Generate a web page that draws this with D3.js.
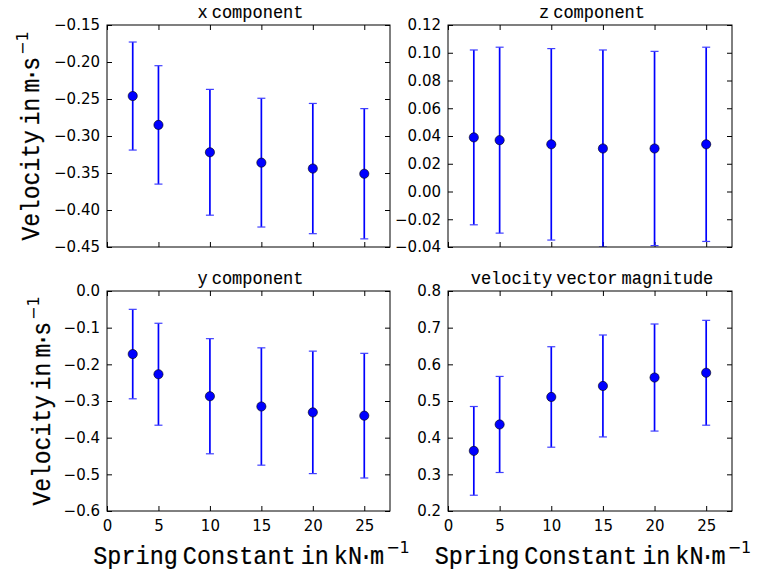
<!DOCTYPE html>
<html><head><meta charset="utf-8">
<script src="https://cdn.jsdelivr.net/npm/d3@7"></script>
<style>body{margin:0;background:#fff} svg{display:block}</style>
</head><body><svg id="c" width="759" height="577"></svg>
<script>
// ---------------- data ----------------
const springConstant = [2.5, 5, 10, 15, 20, 25];
const xTickValues = [0, 5, 10, 15, 20, 25];

const xCompMean = [-0.246, -0.285, -0.322, -0.336, -0.344, -0.351];
const xCompErr  = [0.073, 0.080, 0.085, 0.087, 0.088, 0.088];
const zCompMean = [0.039, 0.037, 0.034, 0.031, 0.031, 0.034];
const zCompErr  = [0.063, 0.067, 0.069, 0.071, 0.070, 0.070];
const yCompMean = [-0.172, -0.227, -0.287, -0.315, -0.331, -0.340];
const yCompErr  = [0.122, 0.139, 0.157, 0.160, 0.167, 0.170];
const magMean   = [0.364, 0.436, 0.511, 0.541, 0.564, 0.577];
const magErr    = [0.121, 0.131, 0.137, 0.139, 0.146, 0.143];

const xCompTicks = [-0.45, -0.40, -0.35, -0.30, -0.25, -0.20, -0.15];
const zCompTicks = [-0.04, -0.02, 0.00, 0.02, 0.04, 0.06, 0.08, 0.10, 0.12];
const yCompTicks = [-0.6, -0.5, -0.4, -0.3, -0.2, -0.1, 0.0];
const magTicks   = [0.2, 0.3, 0.4, 0.5, 0.6, 0.7, 0.8];

const titles = ["x component", "z component", "y component", "velocity vector magnitude"];
const yLabelText = "Velocity in m·s";
const xLabelText = "Spring Constant in kN·m";
const unitExponent = "−1";
const xDomain = [0, 27.5];

// ---------------- layout ----------------
const panels = [
  {title: titles[0], mean: xCompMean, err: xCompErr, ticks: xCompTicks, fmt: ".2f",
   L: 107, R: 390, T: 25, B: 247, xLabels: false, yLabel: true, yLabelX: 39},
  {title: titles[1], mean: zCompMean, err: zCompErr, ticks: zCompTicks, fmt: ".2f",
   L: 448, R: 732, T: 25, B: 247, xLabels: false, yLabel: false},
  {title: titles[2], mean: yCompMean, err: yCompErr, ticks: yCompTicks, fmt: ".1f",
   L: 107, R: 390, T: 291, B: 511, xLabels: true, yLabel: true, yLabelX: 50},
  {title: titles[3], mean: magMean, err: magErr, ticks: magTicks, fmt: ".1f",
   L: 448, R: 732, T: 291, B: 511, xLabels: true, yLabel: false},
];

const svg = d3.select("#c");
const BLUE = "#0000ff";
const tickFont = "'DejaVu Sans', sans-serif";
const monoFont = "'Liberation Mono', 'DejaVu Sans Mono', monospace";

// typewriter-style text: each glyph centred in a fixed-width slot, narrow word gaps
function typeText(g, str, o) {
  let cur = 0; const xs = [];
  for (const ch of str) {
    const w = ch === " " ? o.gap : ch === "·" ? o.dot : o.slot;
    xs.push(cur + w / 2); cur += w;
  }
  const W = cur;
  let sup = null, S = 0;
  if (o.sup) {
    sup = g.append("text").attr("font-family", tickFont).attr("font-size", o.supSize)
      .attr("fill", "#000").text(o.sup);
    S = o.supGap + sup.node().getComputedTextLength();
  }
  const x0 = -(W + S) / 2;
  const inner = g.append("g").attr("transform", `scale(1,${o.sy || 1})`);
  inner.append("text")
    .attr("x", xs.map(v => (v + x0).toFixed(2)).join(" "))
    .attr("y", 0)
    .attr("text-anchor", "middle")
    .attr("font-family", monoFont)
    .attr("font-size", o.size)
    .attr("fill", "#000")
    .attr("stroke", "#000").attr("stroke-width", o.stroke || 0)
    .text(str);
  if (sup) sup.attr("x", x0 + W + o.supGap).attr("y", o.supDy);
}

panels.forEach((p, idx) => {
  const x = d3.scaleLinear().domain(xDomain).range([p.L, p.R]);
  const y = d3.scaleLinear().domain([p.ticks[0], p.ticks[p.ticks.length - 1]]).range([p.B, p.T]);
  const g = svg.append("g");

  const clipId = "clip" + idx;
  svg.append("clipPath").attr("id", clipId).append("rect")
    .attr("x", p.L).attr("y", p.T).attr("width", p.R - p.L).attr("height", p.B - p.T);

  const fmtY = d3.format(p.fmt);
  const axB = d3.axisBottom(x).tickValues(xTickValues).tickSizeInner(-5).tickSizeOuter(0).tickPadding(9)
    .tickFormat(p.xLabels ? d3.format("d") : "");
  const axT = d3.axisTop(x).tickValues(xTickValues).tickSizeInner(-5).tickSizeOuter(0).tickFormat("");
  const axL = d3.axisLeft(y).tickValues(p.ticks).tickSizeInner(-5).tickSizeOuter(0).tickPadding(7)
    .tickFormat(d => fmtY(d));
  const axR = d3.axisRight(y).tickValues(p.ticks).tickSizeInner(-5).tickSizeOuter(0).tickFormat("");

  [[axB, `translate(0,${p.B})`], [axT, `translate(0,${p.T})`],
   [axL, `translate(${p.L},0)`], [axR, `translate(${p.R},0)`]].forEach(([ax, tr]) => {
    const a = g.append("g").attr("transform", tr).call(ax);
    a.select(".domain").remove();
    a.selectAll(".tick line").attr("stroke", "#000").attr("stroke-width", 1);
    a.selectAll(".tick text").attr("font-family", tickFont).attr("font-size", 15).attr("fill", "#000");
  });

  // error bars + markers
  const data = springConstant.map((k, i) => ({k, m: p.mean[i], e: p.err[i]}));
  const eb = g.append("g").attr("clip-path", `url(#${clipId})`);
  eb.selectAll("line.v").data(data).enter().append("line").attr("class", "v")
    .attr("x1", d => x(d.k)).attr("x2", d => x(d.k))
    .attr("y1", d => y(d.m - d.e)).attr("y2", d => y(d.m + d.e))
    .attr("stroke", BLUE).attr("stroke-width", 1.7);
  ["lo", "hi"].forEach(side => {
    eb.selectAll("line.c" + side).data(data).enter().append("line").attr("class", "c" + side)
      .attr("x1", d => x(d.k) - 4).attr("x2", d => x(d.k) + 4)
      .attr("y1", d => y(side === "lo" ? d.m - d.e : d.m + d.e))
      .attr("y2", d => y(side === "lo" ? d.m - d.e : d.m + d.e))
      .attr("stroke", "#4040ff").attr("stroke-width", 1.2);
  });
  eb.selectAll("circle").data(data).enter().append("circle")
    .attr("cx", d => x(d.k)).attr("cy", d => y(d.m)).attr("r", 4.6)
    .attr("fill", BLUE).attr("stroke", "#000").attr("stroke-width", 0.6);

  // frame
  g.append("rect").attr("x", p.L).attr("y", p.T).attr("width", p.R - p.L).attr("height", p.B - p.T)
    .attr("fill", "none").attr("stroke", "#000").attr("stroke-width", 1);

  // title
  const tg = g.append("g").attr("transform", `translate(${(p.L + p.R) / 2 + 2},${p.T - 7})`);
  typeText(tg, p.title, {size: 17, slot: 10.2, gap: 4, dot: 6, sy: 1.05, stroke: 0.12});

  // y label
  if (p.yLabel) {
    const lg = g.append("g")
      .attr("transform", `translate(${p.yLabelX},${(p.T + p.B) / 2}) rotate(-90)`);
    typeText(lg, yLabelText, {size: 23, slot: 13.8, gap: 5, dot: 8, sy: 1.1, stroke: 0.2,
      sup: unitExponent, supSize: 16, supGap: 2, supDy: -11});
  }
  // x label
  if (p.xLabels) {
    const lg = g.append("g").attr("transform", `translate(${(p.L + p.R) / 2 + 3},564)`);
    typeText(lg, xLabelText, {size: 23.5, slot: 14.1, gap: 5, dot: 8, sy: 1.1, stroke: 0.2,
      sup: unitExponent, supSize: 16, supGap: 2, supDy: -11});
  }
});
</script></body></html>
